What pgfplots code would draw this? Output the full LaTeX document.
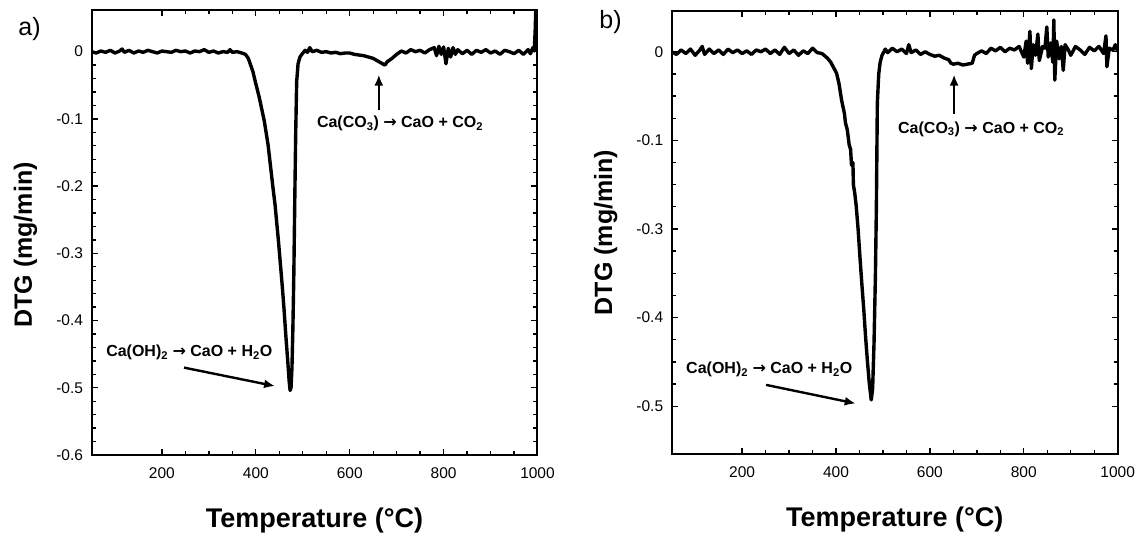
\documentclass[border=0pt]{standalone}
\usepackage{pgfplots}
\usepackage{pgfplotstable}
\pgfplotsset{compat=1.18}
\usepackage{fontspec}
\setmainfont{Liberation Sans}
\newfontfamily\arrowfont{DejaVu Sans}
\usetikzlibrary{arrows.meta}

% panel a) : temperature (C), DTG (mg/min)
\pgfplotstableread{
T v
50 0.000
60 -0.002
70 0.001
80 -0.001
90 0.002
100 -0.002
110 0.001
115 0.004
120 -0.001
130 0.002
140 -0.002
150 0.001
160 -0.001
170 0.002
180 0.000
190 -0.002
200 0.001
210 0.000
220 -0.001
230 0.002
240 0.000
250 0.001
260 -0.002
270 0.001
280 0.000
290 0.003
300 -0.001
310 0.001
320 -0.002
330 0.000
340 -0.001
345 0.003
350 -0.001
360 0.000
370 -0.002
378 -0.004
384 -0.010
388 -0.018
394 -0.030
399 -0.045
407 -0.067
418 -0.103
426 -0.138
437 -0.205
441 -0.228
448 -0.280
456 -0.346
460 -0.382
464 -0.423
468 -0.460
471 -0.490
473 -0.504
475 -0.500
477 -0.470
479 -0.410
481 -0.330
483 -0.220
485 -0.120
487 -0.045
490 -0.018
494 -0.008
498 -0.004
505 0.002
510 -0.001
515 0.006
520 0.000
530 0.002
540 -0.001
550 0.000
560 -0.002
570 -0.001
580 -0.003
590 -0.002
600 -0.002
610 -0.004
620 -0.005
630 -0.006
640 -0.008
650 -0.010
660 -0.014
670 -0.018
675 -0.020
680 -0.015
690 -0.010
700 -0.004
710 0.001
720 -0.002
730 0.003
740 0.000
750 0.002
760 -0.002
770 0.003
780 0.006
785 -0.006
790 0.008
795 -0.004
800 0.007
805 -0.018
810 0.005
815 -0.008
820 0.006
825 -0.004
830 0.003
840 -0.003
850 0.002
860 -0.004
870 0.002
880 -0.001
890 0.003
900 -0.002
910 0.001
920 -0.004
930 0.002
940 0.000
950 -0.003
960 0.002
970 -0.004
980 0.003
985 -0.003
990 0.006
993 0.001
995 0.030
997 0.080
}\dataA

% panel b) : temperature (C), DTG read in axis position units
\pgfplotstableread{
T v
50 0.000
60 -0.003
70 0.002
80 -0.002
90 0.003
100 -0.004
110 0.002
115 0.006
120 -0.003
130 0.003
140 -0.002
150 0.002
160 -0.003
170 0.003
180 -0.001
190 0.002
200 -0.002
210 0.001
220 -0.003
230 0.002
240 0.000
250 0.003
260 -0.002
270 0.002
280 -0.003
290 0.005
300 -0.002
310 0.002
320 -0.004
330 0.001
340 -0.002
350 0.004
360 -0.001
370 -0.002
377 -0.005
383 -0.008
389 -0.012
395 -0.018
401 -0.024
406 -0.035
412 -0.055
418 -0.070
420 -0.080
424 -0.088
428 -0.105
431 -0.110
433 -0.128
436 -0.125
437 -0.150
440 -0.160
443 -0.174
447 -0.200
451 -0.232
455 -0.262
459 -0.290
463 -0.322
467 -0.350
471 -0.375
475 -0.393
478 -0.380
481 -0.328
484 -0.250
486 -0.174
488 -0.058
491 -0.025
494 -0.012
498 -0.004
505 0.003
510 -0.001
520 0.004
530 0.000
540 0.003
550 -0.002
555 0.008
560 -0.001
570 0.002
580 -0.003
590 0.000
600 -0.003
610 -0.005
620 -0.004
630 -0.007
640 -0.009
645 -0.013
650 -0.014
660 -0.013
670 -0.015
680 -0.014
690 -0.013
695 -0.004
700 -0.002
710 0.001
720 -0.002
730 0.004
740 0.001
750 0.005
760 0.000
770 0.004
780 0.002
790 0.006
800 -0.006
805 0.012
808 -0.013
813 0.023
816 -0.019
820 0.008
825 -0.004
830 0.020
833 -0.010
840 0.006
845 0.004
849 0.028
852 -0.006
857 0.010
862 -0.012
864 0.036
866 -0.032
870 0.012
875 -0.008
880 0.006
884 -0.021
888 0.008
895 0.002
900 -0.004
910 0.006
920 0.002
930 -0.003
940 0.005
950 0.001
960 0.006
970 -0.002
975 0.018
977 -0.017
982 0.004
990 0.002
995 0.008
1000 0.000
}\dataB

\pgfplotsset{
  dtg/.style={
    scale only axis,
    clip mode=individual,
    width=446pt,
    xmin=50, xmax=1000,
    xtick={200,400,600,800,1000},
    xticklabels={200,400,600,800,1000},
    minor x tick num=3,
    tick align=inside,
    major tick length=6pt,
    minor tick length=4pt,
    tick style={black, line width=1.3pt},
    axis line style={black, line width=2pt},
    tick label style={font=\fontsize{15.5}{18}\selectfont},
    xticklabel style={yshift=-9pt},
    yticklabel style={xshift=-5pt},
    xlabel={Temperature (°C)},
    ylabel={DTG (mg/min)},
    xlabel style={font=\fontsize{27}{30}\selectfont\bfseries,
      at={(axis description cs:0.5,-0.148)}, anchor=center},
    ylabel style={font=\fontsize{25}{28}\selectfont\bfseries},
  },
}
\newcommand{\rarr}{{\arrowfont\bfseries →}}
\tikzset{
  curve/.style={black, line width=3.4pt, line join=round},
  annot/.style={anchor=west, font=\fontsize{16}{19}\selectfont\bfseries, inner sep=0pt},
  arr/.style={black, line width=2.4pt, -{Latex[length=11pt,width=9pt]}},
}

\begin{document}
\begin{tikzpicture}
\useasboundingbox (0pt,0pt) rectangle (1138pt,537pt);

% ---------------- panel a)
\begin{axis}[dtg,
  at={(91.5pt,82pt)}, anchor=south west,
  height=445pt,
  ymin=-0.6, ymax=0.062,
  ytick={0,-0.1,-0.2,-0.3,-0.4,-0.5,-0.6},
  yticklabels={0,-0.1,-0.2,-0.3,-0.4,-0.5,-0.6},
  minor y tick num=4,
  ylabel style={at={(axis description cs:-0.148,0.472)}, anchor=center},
]
\addplot[curve, no markers] table[x=T, y=v] {\dataA};
\node[annot] at (axis cs:81,-0.448) {Ca(OH)\textsubscript{2} \rarr{} CaO + H\textsubscript{2}O};
\draw[arr] (axis cs:247,-0.470) -- (axis cs:441,-0.4975);
\node[annot] at (axis cs:530,-0.1074) {Ca(CO\textsubscript{3}) \rarr{} CaO + CO\textsubscript{2}};
\draw[arr] (axis cs:662,-0.0874) -- (axis cs:662,-0.034);
\node[anchor=center, font=\fontsize{25}{28}\selectfont] at (axis description cs:-0.139,0.958) {a)};
\end{axis}

% ---------------- panel b)
\begin{axis}[dtg,
  at={(671.7pt,83pt)}, anchor=south west,
  height=443pt,
  ymin=-0.454, ymax=0.046,
  ytick={0,-0.1,-0.2,-0.3,-0.4},
  yticklabels={0,-0.1,-0.3,-0.4,-0.5},
  minor y tick num=3,
  ylabel style={at={(axis description cs:-0.148,0.5)}, anchor=center},
]
\addplot[curve, no markers] table[x=T, y=v] {\dataB};
\node[annot] at (axis cs:80.5,-0.359) {Ca(OH)\textsubscript{2} \rarr{} CaO + H\textsubscript{2}O};
\draw[arr] (axis cs:251,-0.376) -- (axis cs:442,-0.397);
\node[annot] at (axis cs:532,-0.0872) {Ca(CO\textsubscript{3}) \rarr{} CaO + CO\textsubscript{2}};
\draw[arr] (axis cs:651.5,-0.070) -- (axis cs:651.5,-0.0257);
\node[anchor=center, font=\fontsize{25}{28}\selectfont] at (axis description cs:-0.137,0.974) {b)};
\end{axis}
\end{tikzpicture}
\end{document}
